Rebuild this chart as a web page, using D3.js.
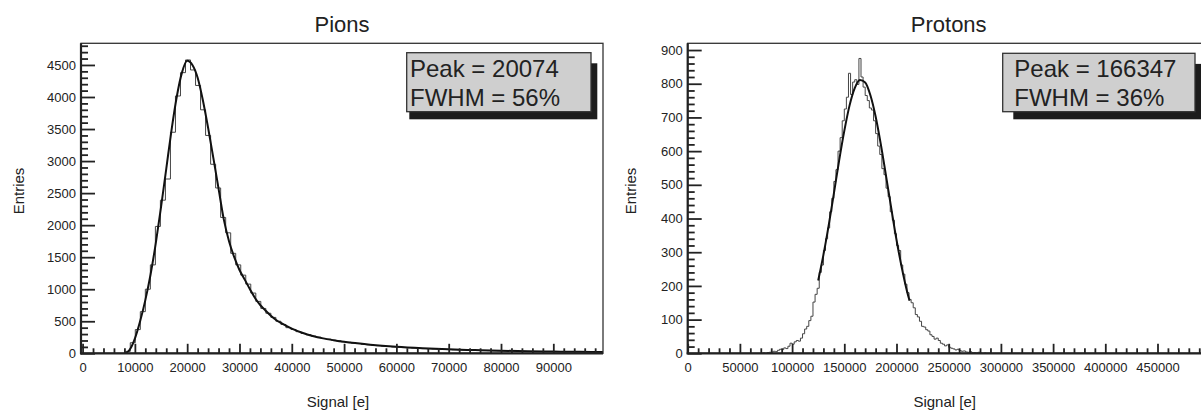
<!DOCTYPE html>
<html><head><meta charset="utf-8">
<script src="https://cdn.jsdelivr.net/npm/d3@7"></script>
<style>
html,body{margin:0;padding:0;background:#fff;overflow:hidden}
svg{display:block}
text{font-family:"Liberation Sans",Arial,Helvetica,sans-serif;fill:#222}
</style></head>
<body>
<svg id="chart" width="1201" height="412"></svg>
<script>
// ---------- DATA ----------
const pionTitle = "Pions";
const protonTitle = "Protons";
const xAxisTitle = "Signal [e]";
const yAxisTitle = "Entries";
const pionLegend = ["Peak = 20074", "FWHM = 56%"];
const protonLegend = ["Peak = 166347", "FWHM = 36%"];

const pionXTicks = [0,10000,20000,30000,40000,50000,60000,70000,80000,90000];
const pionYTicks = [0,500,1000,1500,2000,2500,3000,3500,4000,4500];
const protonXTicks = [0,50000,100000,150000,200000,250000,300000,350000,400000,450000];
const protonYTicks = [0,100,200,300,400,500,600,700,800,900];

const pionBinStart = 8160;
const pionBinWidth = 960;
const pionCounts = [30,165,370,650,1000,1380,1980,2390,2720,3450,
  4016,4380,4578,4422,4180,3800,3400,2950,2580,2120,
  1880,1560,1380,1220,1080,940,810,700,625,560,
  500,450,400,372,338,310,290,268,252,232,
  221,204,196,180,172,158,152,139,133,124,
  119,110,107,99,96,89,87,80,78,73,
  71,66,64,60,58,54,53,50,49,45,
  44,42,41,38,37,36,33,33,31,30,
  29,27,27,25,25,23,23,22,21,21,
  19,19,18,17,17,16];

const pionFitX = [8200,9000,10000,11000,12000,13000,14000,15000,16000,17000,18000,19000,20000,21000,22000,23000,24000,25000,26000,27000,28000,29000,30000,31000,32000,33000,34000,35000,36000,37000,38000,40000,42000,44000,46000,48000,50000,55000,60000,65000,70000,75000,80000,85000,90000,95000,99500];
const pionFitY = [0,55,230,500,830,1230,1720,2280,2880,3480,4000,4380,4565,4500,4300,3950,3520,3050,2570,2090,1750,1500,1300,1150,1000,860,750,665,585,520,470,385,320,270,233,205,180,135,103,80,62,50,40,33,27,23,20];

const protonBinStart = 70000;
const protonBinWidth = 2000;
const protonCounts = [0,1,0,2,3,4,6,5,9,12,
  11,16,14,21,30,27,34,38,36,45,
  58,72,80,97,110,152,175,193,240,262,
  305,340,372,420,460,510,545,600,640,690,
  725,760,831,768,805,812,798,875,820,790,
  765,750,728,722,690,652,615,590,548,530,
  490,465,420,395,355,320,305,262,235,205,
  180,160,150,135,115,108,95,80,78,70,
  66,55,50,42,45,38,30,27,22,25,
  18,15,13,10,12,8,6,7,4,3,
  5,2,2,1,3,1,0,1,0,0];

const protonFitX = [125000,130000,135000,140000,145000,150000,155000,160000,165000,170000,175000,180000,185000,190000,195000,200000,205000,210000,212500];
const protonFitY = [216,292,379,474,571,660,735,787,811,804,766,703,620,526,430,337,255,185,156];

// ---------- LAYOUT ----------
const svg = d3.select("#chart");
const plotTop = 43.3, plotBottom = 353.3;

const panels = [
  {title:pionTitle, left:81, right:603, xDomain:[-300,99500], yMax:4838,
   xTicks:pionXTicks, xMinorStep:2000, yTicks:pionYTicks, yMinorStep:100,
   binStart:pionBinStart, binWidth:pionBinWidth, counts:pionCounts,
   fitX:pionFitX, fitY:pionFitY, legend:pionLegend,
   box:{x:406.7,y:52.7,w:184.3,h:59, sdx:2.6, textX:410}, yTitleX:24},
  {title:protonTitle, left:687.7, right:1209.7, xDomain:[0,500000], yMax:920,
   xTicks:protonXTicks, xMinorStep:10000, yTicks:protonYTicks, yMinorStep:20,
   binStart:protonBinStart, binWidth:protonBinWidth, counts:protonCounts,
   fitX:protonFitX, fitY:protonFitY, legend:protonLegend,
   box:{x:1002.7,y:53.3,w:192.3,h:58.4, sdx:10.6, textX:1014.3}, yTitleX:636}
];

panels.forEach((p, pi) => {
  const g = svg.append("g");
  const x = d3.scaleLinear().domain(p.xDomain).range([p.left, p.right]);
  const y = d3.scaleLinear().domain([0, p.yMax]).range([plotBottom, plotTop]);

  const clipId = "clip" + pi;
  svg.append("clipPath").attr("id", clipId).append("rect")
    .attr("x", p.left).attr("y", plotTop).attr("width", p.right - p.left).attr("height", plotBottom - plotTop);

  // title
  g.append("text").attr("x", (p.left + p.right) / 2).attr("y", 31.5)
    .attr("text-anchor", "middle").style("font-size", "22px").text(p.title);

  // histogram (step outline)
  const steps = [[p.binStart, 0]];
  p.counts.forEach((c, i) => {
    const x0 = p.binStart + i * p.binWidth, x1 = x0 + p.binWidth;
    steps.push([x0, c]); steps.push([x1, c]);
  });
  steps.push([p.binStart + p.counts.length * p.binWidth, 0]);
  g.append("path").attr("clip-path", `url(#${clipId})`)
    .attr("d", d3.line().x(d => x(d[0])).y(d => y(d[1]))(steps))
    .attr("fill", "none").attr("stroke", "#444").attr("stroke-width", 1);

  // fit curve
  const fit = p.fitX.map((fx, i) => [fx, p.fitY[i]]);
  g.append("path").attr("clip-path", `url(#${clipId})`)
    .attr("d", d3.line().x(d => x(d[0])).y(d => y(d[1])).curve(d3.curveMonotoneX)(fit))
    .attr("fill", "none").attr("stroke", "#111").attr("stroke-width", 2);

  // frame
  g.append("rect").attr("x", p.left).attr("y", plotTop).attr("width", p.right - p.left).attr("height", plotBottom - plotTop)
    .attr("fill", "none").attr("stroke", "#333").attr("stroke-width", 1.3);

  // y axis major + minor
  const yMinor = d3.range(0, p.yMax, p.yMinorStep).filter(v => !p.yTicks.includes(v));
  const yAxMinor = g.append("g").attr("transform", `translate(${p.left},0)`)
    .call(d3.axisLeft(y).tickValues(yMinor).tickSize(-7).tickSizeOuter(0).tickFormat(""));
  const yAx = g.append("g").attr("transform", `translate(${p.left},0)`)
    .call(d3.axisLeft(y).tickValues(p.yTicks).tickSize(-14).tickSizeOuter(0).tickPadding(5).tickFormat(d3.format("d")));
  // x axis major + minor
  const xMinor = d3.range(0, p.xDomain[1], p.xMinorStep).filter(v => !p.xTicks.includes(v));
  const xAxMinor = g.append("g").attr("transform", `translate(0,${plotBottom})`)
    .call(d3.axisBottom(x).tickValues(xMinor).tickSize(-5).tickSizeOuter(0).tickFormat(""));
  const xAx = g.append("g").attr("transform", `translate(0,${plotBottom})`)
    .call(d3.axisBottom(x).tickValues(p.xTicks).tickSize(-9.5).tickSizeOuter(0).tickPadding(9).tickFormat(d3.format("d")));

  [yAxMinor, yAx, xAxMinor, xAx].forEach(a => {
    a.select(".domain").remove();
    a.selectAll(".tick line").attr("stroke", "#222").attr("stroke-width", 1.8);
    a.selectAll("text").style("font-size", "13px").attr("fill", "#222")
      .style("font-family", '"Liberation Sans",Arial,sans-serif');
  });

  // thick axis lines
  g.append("line").attr("x1", p.left).attr("x2", p.left).attr("y1", plotTop).attr("y2", plotBottom + 1)
    .attr("stroke", "#222").attr("stroke-width", 2.2);
  g.append("line").attr("x1", p.left - 1).attr("x2", p.right).attr("y1", plotBottom).attr("y2", plotBottom)
    .attr("stroke", "#222").attr("stroke-width", 2.2);

  // axis titles
  g.append("text").attr("x", (p.left + p.right) / 2 - 4).attr("y", 406.5)
    .attr("text-anchor", "middle").style("font-size", "15px").text(xAxisTitle);
  g.append("text").attr("transform", `translate(${p.yTitleX},191) rotate(-90)`)
    .attr("text-anchor", "middle").style("font-size", "15px").text(yAxisTitle);

  // legend box with shadow
  const b = p.box;
  g.append("rect").attr("x", b.x + b.sdx).attr("y", b.y + 10.6)
    .attr("width", b.w + 6.3 - b.sdx).attr("height", b.h - 3)
    .attr("fill", "#1c1c1c");
  g.append("rect").attr("x", b.x).attr("y", b.y).attr("width", b.w).attr("height", b.h)
    .attr("fill", "#cfcfcf").attr("stroke", "#333").attr("stroke-width", 1.3);
  p.legend.forEach((t, i) => {
    g.append("text").attr("x", b.textX).attr("y", 76.7 + i * 29)
      .style("font-size", "24px").attr("fill", "#222").text(t);
  });
});
</script>
</body></html>
